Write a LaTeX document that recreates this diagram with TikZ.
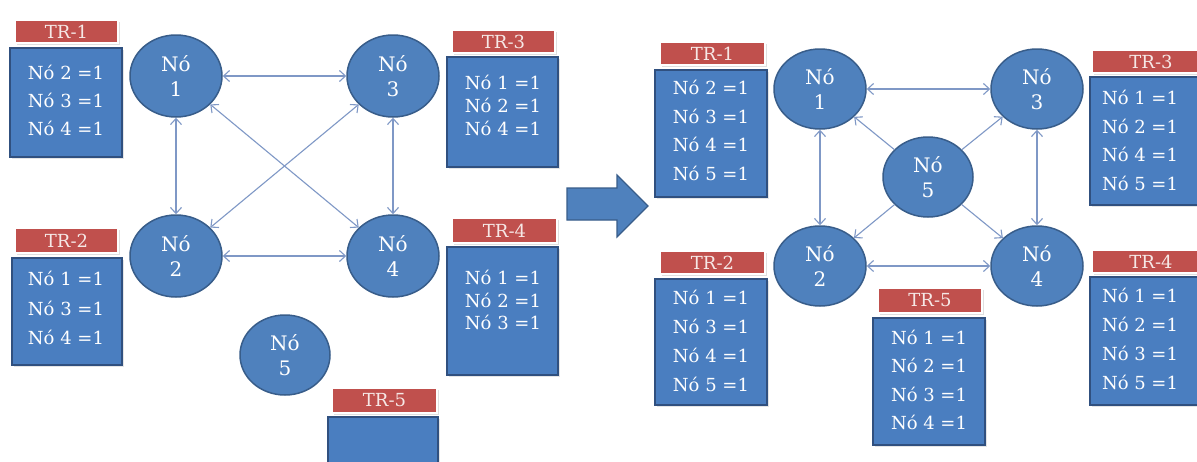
\documentclass[tikz,border=0pt]{standalone}
\usepackage{fontspec}
\setmainfont{DejaVu Serif}
\usetikzlibrary{shapes.geometric,arrows.meta,shadows}
\definecolor{nodeblue}{HTML}{4F81BD}
\definecolor{nodeedge}{HTML}{385D8A}
\definecolor{boxblue}{HTML}{4A7EC0}
\definecolor{boxedge}{HTML}{30507F}
\definecolor{trred}{HTML}{C0504D}
\definecolor{trtext}{HTML}{F6E8E6}
\definecolor{linkcol}{HTML}{7F98C6}
\begin{document}
\begin{tikzpicture}[x=1pt,y=-1pt,
  >={Straight Barb[length=6pt,width=11pt]},
  circ/.style={ellipse, fill=nodeblue, draw=nodeedge, line width=1.5pt, inner sep=0pt,
    text=white, align=center, font=\fontsize{20}{25}\selectfont},
  trbar/.style={rectangle, fill=trred, draw=white, line width=2pt, inner sep=0pt,
    text=trtext, font=\fontsize{18}{18}\selectfont,
    drop shadow={opacity=0.25, shadow xshift=1.5pt, shadow yshift=-1.5pt}},
  listbox/.style={rectangle, fill=boxblue, draw=boxedge, line width=1.5pt, inner sep=0pt,
    drop shadow={opacity=0.2, shadow xshift=1.5pt, shadow yshift=-1.5pt}},
  listtext/.style={text=white, align=center, inner sep=0pt},
  link/.style={draw=linkcol, line width=1.1pt},
  bigarrow/.style={fill=nodeblue, draw=nodeedge, line width=1.2pt}
]
\useasboundingbox (0,0) rectangle (1197,461);
\clip (0,0) rectangle (1197,461);
\fill[white] (0,0) rectangle (1197,461);

% ---------------- left panel ----------------
\node[circ, minimum width=92pt, minimum height=82pt] (a1) at (176,76) {Nó\\1};
\node[circ, minimum width=92pt, minimum height=82pt] (a3) at (393,76) {Nó\\3};
\node[circ, minimum width=92pt, minimum height=82pt] (a2) at (176,256) {Nó\\2};
\node[circ, minimum width=92pt, minimum height=82pt] (a4) at (393,256) {Nó\\4};
\node[circ, minimum width=90pt, minimum height=80pt] (a5) at (285,355) {Nó\\5};

\draw[link,<->] (a1) -- (a3);
\draw[link,<->] (a1) -- (a2);
\draw[link,<->] (a3) -- (a4);
\draw[link,<->] (a2) -- (a4);
\draw[link,<->] (a1) -- (a4);
\draw[link,<->] (a3) -- (a2);

\node[trbar, minimum width=103pt, minimum height=23pt] (ltr1) at (66.5,31.5) {TR-1};
\node[listbox, minimum width=112pt, minimum height=109pt] (lb1) at (66,102.5) {};
\node[listtext, font=\fontsize{18}{28}\selectfont] (lt1) at (66,100) {Nó 2 =1\\Nó 3 =1\\Nó 4 =1};

\node[trbar, minimum width=103pt, minimum height=25pt] (ltr2) at (66.5,240.5) {TR-2};
\node[listbox, minimum width=110pt, minimum height=107pt] (lb2) at (67,311.5) {};
\node[listtext, font=\fontsize{18}{29.5}\selectfont] (lt2) at (66,308) {Nó 1 =1\\Nó 3 =1\\Nó 4 =1};

\node[trbar, minimum width=103pt, minimum height=23pt] (ltr3) at (503.5,41.5) {TR-3};
\node[listbox, minimum width=111pt, minimum height=110pt] (lb3) at (502.5,112) {};
\node[listtext, font=\fontsize{18}{23}\selectfont] (lt3) at (503,105) {Nó 1 =1\\Nó 2 =1\\Nó 4 =1};

\node[trbar, minimum width=105pt, minimum height=25pt] (ltr4) at (504.5,230.5) {TR-4};
\node[listbox, minimum width=111pt, minimum height=128pt] (lb4) at (502.5,311) {};
\node[listtext, font=\fontsize{18}{22.5}\selectfont] (lt4) at (503,300) {Nó 1 =1\\Nó 2 =1\\Nó 3 =1};

\node[trbar, minimum width=105pt, minimum height=25pt] (ltr5) at (384.5,400.5) {TR-5};
\node[listbox, minimum width=110pt, minimum height=56pt] (lb5) at (383,445) {};

% ---------------- big arrow ----------------
\draw[bigarrow] (567,188) -- (617,188) -- (617,175) -- (648,206) -- (617,237) -- (617,220) -- (567,220) -- cycle;

% ---------------- right panel ----------------
\node[circ, minimum width=92pt, minimum height=80pt] (b1) at (820,89) {Nó\\1};
\node[circ, minimum width=92pt, minimum height=80pt] (b3) at (1037,89) {Nó\\3};
\node[circ, minimum width=92pt, minimum height=80pt] (b2) at (820,266) {Nó\\2};
\node[circ, minimum width=92pt, minimum height=80pt] (b4) at (1037,266) {Nó\\4};
\node[circ, minimum width=90pt, minimum height=80pt] (b5) at (928,177) {Nó\\5};

\draw[link,<->] (b1) -- (b3);
\draw[link,<->] (b1) -- (b2);
\draw[link,<->] (b3) -- (b4);
\draw[link,<->] (b2) -- (b4);
\draw[link,->] (b5) -- (b1);
\draw[link,->] (b5) -- (b3);
\draw[link,->] (b5) -- (b2);
\draw[link,->] (b5) -- (b4);

\node[trbar, minimum width=105pt, minimum height=23pt] (rtr1) at (712.5,53.5) {TR-1};
\node[listbox, minimum width=112pt, minimum height=127pt] (rb1) at (711,133.5) {};
\node[listtext, font=\fontsize{18}{28.5}\selectfont] (rt1) at (711,130.5) {Nó 2 =1\\Nó 3 =1\\Nó 4 =1\\Nó 5 =1};

\node[trbar, minimum width=105pt, minimum height=23pt] (rtr2) at (712.5,262.5) {TR-2};
\node[listbox, minimum width=112pt, minimum height=126pt] (rb2) at (711,342) {};
\node[listtext, font=\fontsize{18}{29}\selectfont] (rt2) at (711,341) {Nó 1 =1\\Nó 3 =1\\Nó 4 =1\\Nó 5 =1};

\node[trbar, minimum width=104pt, minimum height=25pt] (rtr5) at (930,300.5) {TR-5};
\node[listbox, minimum width=112pt, minimum height=127pt] (rb5) at (929,381.5) {};
\node[listtext, font=\fontsize{18}{28.5}\selectfont] (rt5) at (929,380) {Nó 1 =1\\Nó 2 =1\\Nó 3 =1\\Nó 4 =1};

\node[trbar, minimum width=118pt, minimum height=23pt] (rtr3) at (1151,61.5) {TR-3};
\node[listbox, minimum width=120pt, minimum height=128pt] (rb3) at (1150,141) {};
\node[listtext, font=\fontsize{18}{28.5}\selectfont] (rt3) at (1140,140.5) {Nó 1 =1\\Nó 2 =1\\Nó 4 =1\\Nó 5 =1};

\node[trbar, minimum width=118pt, minimum height=23pt] (rtr4) at (1151,261.5) {TR-4};
\node[listbox, minimum width=120pt, minimum height=128pt] (rb4) at (1150,341) {};
\node[listtext, font=\fontsize{18}{29}\selectfont] (rt4) at (1140,339) {Nó 1 =1\\Nó 2 =1\\Nó 3 =1\\Nó 5 =1};
\end{tikzpicture}
\end{document}
